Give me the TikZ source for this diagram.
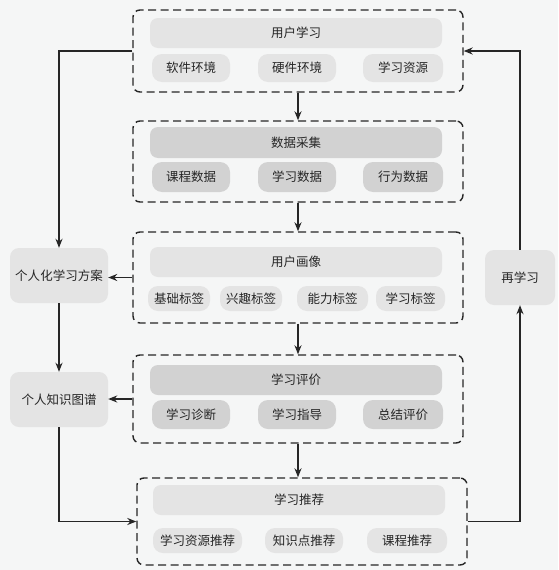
\documentclass[tikz,border=0pt]{standalone}
\usepackage{fontspec}
\usepackage{tikz}
\usetikzlibrary{arrows.meta}
\newfontfamily\cjk{Noto Sans CJK SC}
\definecolor{bgc}{HTML}{F5F6F6}
\definecolor{lightc}{HTML}{E4E4E4}
\definecolor{darkc}{HTML}{D2D2D2}
\definecolor{inkc}{HTML}{262626}

\begin{document}
\begin{tikzpicture}[x=1pt, y=-1pt, >={Stealth[length=9pt, width=7pt]},
    every node/.style={font=\cjk\fontsize{12.5}{14}\selectfont, text=inkc, inner sep=0pt},
    stage/.style={draw=inkc, line width=1.4pt, dash pattern=on 8pt off 4.5pt, rounded corners=7pt, fill=bgc},
    head/.style={rounded corners=8pt, minimum height=30pt, minimum width=292pt},
    item/.style={rounded corners=10pt},
    side/.style={fill=lightc, rounded corners=9pt, minimum height=55pt},
    link/.style={->, draw=inkc, line width=1.5pt}]

    \fill[bgc] (0,0) rectangle (558,570);
    \useasboundingbox (0,0) rectangle (558,570);

    % dashed stages
    \node[stage, minimum width=330pt, minimum height=82pt] (b1) at (298,51) {};
    \node[stage, minimum width=330pt, minimum height=81pt] (b2) at (298,161.5) {};
    \node[stage, minimum width=330pt, minimum height=91pt] (b3) at (298,277.5) {};
    \node[stage, minimum width=330pt, minimum height=88pt] (b4) at (298,399) {};
    \node[stage, minimum width=330pt, minimum height=87pt] (b5) at (302,521.5) {};

    % headers
    \node[head, fill=lightc] (h1) at (296,33) {用户学习};
    \node[head, fill=darkc, minimum height=31pt] (h2) at (296,142.5) {数据采集};
    \node[head, fill=lightc] (h3) at (296,262) {用户画像};
    \node[head, fill=darkc] (h4) at (296,380) {学习评价};
    \node[head, fill=lightc] (h5) at (299,500) {学习推荐};

    % items
    \foreach \n/\x/\w/\t in {a/191/78/软件环境, b/297/78/硬件环境, c/403/80/学习资源}
        \node[item, fill=lightc, minimum width=\w pt, minimum height=28pt] (u\n) at (\x,68) {\t};
    \foreach \n/\x/\w/\t in {a/191/78/课程数据, b/297/78/学习数据, c/403/80/行为数据}
        \node[item, fill=darkc, minimum width=\w pt, minimum height=30pt] (d\n) at (\x,177) {\t};
    \foreach \n/\x/\w/\t in {a/179/62/基础标签, b/251/62/兴趣标签, c/332.5/71/能力标签, d/410.5/69/学习标签}
        \node[item, fill=lightc, minimum width=\w pt, minimum height=25pt] (p\n) at (\x,298.5) {\t};
    \foreach \n/\x/\w/\t in {a/191/78/学习诊断, b/297/78/学习指导, c/403/80/总结评价}
        \node[item, fill=darkc, minimum width=\w pt, minimum height=29pt] (e\n) at (\x,414.5) {\t};
    \foreach \n/\x/\w/\t in {a/197.5/89/学习资源推荐, b/304/78/知识点推荐, c/407/80/课程推荐}
        \node[item, fill=lightc, minimum width=\w pt, minimum height=25pt] (r\n) at (\x,540.5) {\t};

    % side nodes
    \node[side, minimum width=98pt] (plan) at (59,275.5) {个人化学习方案};
    \node[side, minimum width=98pt] (graph) at (59,399.5) {个人知识图谱};
    \node[side, minimum width=70pt] (again) at (520,277.5) {再学习};

    % main flow
    \draw[link] (b1.south) -- (b2.north);
    \draw[link] (b2.south) -- (b3.north);
    \draw[link] (b3.south) -- (b4.north);
    \draw[link] (b4.south) -- (b4.south |- b5.north);

    % left and right loops
    \draw[link] (b1.west) -| (plan.north);
    \draw[link] (b3.west) -- (b3.west -| plan.east);
    \draw[link] (plan.south) -- (graph.north);
    \draw[link] (b4.west) -- (b4.west -| graph.east);
    \draw[link] (graph.south) |- (b5.west);
    \draw[link] (b5.east) -| (again.south);
    \draw[link] (again.north) |- (b1.east);
\end{tikzpicture}
\end{document}
